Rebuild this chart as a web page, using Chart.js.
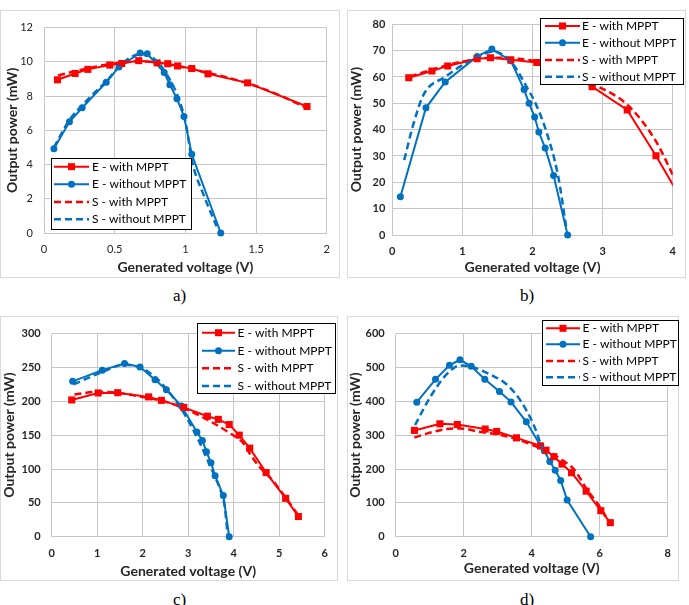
<!DOCTYPE html>
<html>
<head>
<meta charset="utf-8">
<script src="https://cdn.jsdelivr.net/npm/chart.js@4.4.1/dist/chart.umd.min.js"></script>
<style>
  body { margin: 0; background: #fff; width: 689px; height: 605px; position: relative; overflow: hidden; }
  .frame { position: absolute; border: 1px solid #d9d9d9; box-sizing: border-box; }
  canvas { position: absolute; }
  .tag { position: absolute; font-family: "Liberation Serif", serif; font-size: 17px; color: #000; }
</style>
</head>
<body>
<div class="frame" style="left:0;top:10px;width:340px;height:268px"></div>
<div class="frame" style="left:347px;top:10px;width:339px;height:268px"></div>
<div class="frame" style="left:0;top:316px;width:338px;height:265px"></div>
<div class="frame" style="left:347px;top:316px;width:332px;height:265px"></div>
<canvas id="chartA" width="340" height="268" style="left:0;top:10px"></canvas>
<canvas id="chartB" width="339" height="268" style="left:347px;top:10px"></canvas>
<canvas id="chartC" width="338" height="265" style="left:0;top:316px"></canvas>
<canvas id="chartD" width="334" height="265" style="left:347px;top:316px"></canvas>
<div class="tag" style="left:173px;top:286px">a)</div>
<div class="tag" style="left:520px;top:286px">b)</div>
<div class="tag" style="left:173px;top:590px">c)</div>
<div class="tag" style="left:520px;top:590px">d)</div>
<script>
//=[ Data: [voltage (V), power (mW)] ]==========================================

const seriesNames = ["E - with MPPT", "E - without MPPT", "S - with MPPT", "S - without MPPT"];

// a)
const aEWith = [[0.095, 8.95], [0.22, 9.32], [0.31, 9.56], [0.465, 9.81], [0.55, 9.9], [0.67, 10.07], [0.8, 9.94], [0.875, 9.89], [0.945, 9.76], [1.045, 9.61], [1.16, 9.3], [1.44, 8.77], [1.86, 7.39]];
const aEWithout = [[0.07, 4.92], [0.18, 6.5], [0.27, 7.32], [0.44, 8.8], [0.53, 9.7], [0.68, 10.52], [0.73, 10.47], [0.85, 9.37], [0.89, 8.66], [0.94, 7.85], [0.99, 6.81], [1.045, 4.6], [1.25, 0]];
const aSWith = [[0.1, 9.2], [0.2, 9.42], [0.3, 9.6], [0.45, 9.85], [0.6, 10.0], [0.72, 10.02], [0.85, 9.9], [1.0, 9.66], [1.2, 9.28], [1.45, 8.72], [1.65, 8.1], [1.86, 7.3]];
const aSWithout = [[0.07, 5.0], [0.18, 6.6], [0.28, 7.55], [0.45, 8.95], [0.56, 9.95], [0.68, 10.45], [0.76, 10.3], [0.85, 9.5], [0.95, 7.9], [1.0, 6.5], [1.05, 4.1], [1.13, 2.2], [1.22, 0.4]];

// b)
const bEWith = [[0.235, 59.7], [0.565, 62.3], [0.79, 64.2], [1.21, 66.9], [1.4, 67.3], [1.69, 66.5], [2.06, 65.5], [2.45, 62], [2.85, 56.3], [3.35, 47.5], [3.76, 30.1], [4.2, 10]];
const bEWithout = [[0.115, 14.5], [0.48, 48.3], [0.755, 58.1], [1.21, 67.8], [1.42, 70.6], [1.69, 66.2], [1.88, 55.2], [1.95, 50], [2.03, 44.8], [2.09, 39.1], [2.18, 33], [2.3, 22.6], [2.5, 0]];
const bSWith = [[0.25, 60.2], [0.55, 62.6], [0.8, 64.6], [1.2, 66.8], [1.5, 67.3], [1.8, 66.9], [2.1, 65.8], [2.5, 63], [2.85, 57.6], [3.35, 49.5], [3.75, 36], [4.0, 22.8], [4.1, 17]];
const bSWithout = [[0.17, 28.5], [0.3, 42], [0.45, 53.5], [0.75, 60], [1.15, 66.8], [1.45, 69.6], [1.7, 65.5], [1.9, 57], [2.05, 49.5], [2.2, 39], [2.36, 23], [2.48, 3]];

// c)
const cEWith = [[0.44, 202], [1.02, 212.3], [1.45, 212.7], [2.13, 206.5], [2.41, 201.4], [2.9, 191], [3.42, 178], [3.66, 173.3], [3.9, 165.7], [4.12, 150], [4.35, 130.8], [4.71, 94.7], [5.14, 56.7], [5.42, 29.8]];
const cEWithout = [[0.46, 229.5], [1.11, 246], [1.6, 255.7], [1.94, 250.6], [2.27, 232], [2.52, 217], [2.85, 193], [3.19, 154.7], [3.31, 142.2], [3.4, 125.5], [3.5, 109.2], [3.59, 90], [3.77, 60.7], [3.9, 0]];
const cSWith = [[0.5, 210], [1.0, 214], [1.5, 212], [2.1, 205], [2.5, 199.5], [2.9, 190], [3.4, 173.5], [3.9, 153.5], [4.2, 139], [4.35, 123], [4.58, 102], [4.75, 91], [5.15, 57], [5.42, 31]];
const cSWithout = [[0.48, 225], [1.1, 243], [1.6, 254], [1.95, 250], [2.3, 234], [2.6, 212], [2.9, 183], [3.2, 146], [3.4, 117], [3.55, 94], [3.7, 70], [3.8, 45], [3.87, 0]];

// d)
const dEWith = [[0.55, 314], [1.3, 333.5], [1.81, 331.5], [2.63, 318], [2.97, 311], [3.55, 292], [4.26, 268], [4.42, 255.6], [4.65, 236.5], [4.89, 214.5], [5.17, 189], [5.6, 134.5], [6.03, 77], [6.31, 41.5]];
const dEWithout = [[0.62, 397.5], [1.17, 464.8], [1.58, 506.2], [1.89, 522.7], [2.22, 503.3], [2.62, 465.3], [3.05, 428.7], [3.39, 398.3], [3.84, 339.5], [4.26, 269], [4.37, 254], [4.53, 222.5], [4.69, 196], [4.85, 166], [5.04, 108.5], [5.73, 0]];
const dSWith = [[0.55, 293], [1.0, 307], [1.5, 318], [1.9, 320], [2.5, 309], [3.0, 302], [3.5, 290], [4.0, 272], [4.5, 250], [4.9, 226], [5.25, 198], [5.6, 143], [6.0, 88], [6.3, 40]];
const dSWithout = [[0.57, 330], [1.0, 410], [1.5, 480], [1.9, 506], [2.3, 500], [2.8, 478], [3.2, 455], [3.5, 425], [3.85, 372], [4.1, 320], [4.3, 265], [4.45, 240]];

//=[ Styling ]==================================================================

const RED = "#ff0000";
const BLUE = "#0070c0";
const GRID = "#c6c6c6";

const toXY = (pairs) => pairs.map(([x, y]) => ({ x, y }));

function makeDatasets(series, clip) {
  const [eWith, eWithout, sWith, sWithout] = series;
  return [
    { label: seriesNames[2], data: toXY(sWith), borderColor: RED, borderWidth: 2.5, borderDash: [7, 4], pointRadius: 0, cubicInterpolationMode: "monotone", clip },
    { label: seriesNames[3], data: toXY(sWithout), borderColor: BLUE, borderWidth: 2.5, borderDash: [7, 4], pointRadius: 0, cubicInterpolationMode: "monotone", clip },
    { label: seriesNames[0], data: toXY(eWith), borderColor: RED, backgroundColor: RED, borderWidth: 2, pointStyle: "rect", pointRadius: 5, pointBorderWidth: 0, clip },
    { label: seriesNames[1], data: toXY(eWithout), borderColor: BLUE, backgroundColor: BLUE, borderWidth: 2, pointStyle: "circle", pointRadius: 3.5, pointBorderWidth: 0, clip },
  ];
}

// legend drawn inside the plot as a framed box
const boxLegend = {
  id: "boxLegend",
  afterDatasetsDraw(chart, args, o) {
    const ctx = chart.ctx;
    const byLabel = {};
    chart.data.datasets.forEach((ds) => (byLabel[ds.label] = ds));
    ctx.save();
    ctx.fillStyle = "#fff";
    ctx.fillRect(o.x, o.y, o.w, o.h);
    ctx.strokeStyle = "#000";
    ctx.lineWidth = 1;
    ctx.strokeRect(o.x + 0.5, o.y + 0.5, o.w - 1, o.h - 1);
    ctx.font = "12px Lato";
    ctx.textBaseline = "middle";
    seriesNames.forEach((name, i) => {
      const ds = byLabel[name];
      const y = o.rows[i];
      ctx.strokeStyle = ds.borderColor;
      ctx.lineWidth = ds.borderWidth;
      ctx.setLineDash(ds.borderDash || []);
      ctx.beginPath();
      ctx.moveTo(o.x1, y);
      ctx.lineTo(o.x2, y);
      ctx.stroke();
      ctx.setLineDash([]);
      const mx = (o.x1 + o.x2) / 2;
      ctx.fillStyle = ds.borderColor;
      if (ds.pointStyle === "rect") {
        ctx.fillRect(mx - 3.5, y - 3.5, 7, 7);
      } else if (ds.pointStyle === "circle") {
        ctx.beginPath();
        ctx.arc(mx, y, 3.5, 0, Math.PI * 2);
        ctx.fill();
      }
      ctx.fillStyle = "#000";
      ctx.fillText(name, o.tx, y);
    });
    ctx.restore();
  },
};

function panel(id, series, opt) {
  const tickFont = { family: "Lato", size: 11, weight: opt.boldTicks ? "bold" : "normal" };
  const titleFont = { family: "Lato", size: 14, weight: "bold" };
  new Chart(document.getElementById(id), {
    type: "scatter",
    data: { datasets: makeDatasets(series, opt.clip) },
    options: {
      responsive: false,
      animation: false,
      showLine: true,
      layout: { padding: { left: 0, top: opt.top, right: opt.right, bottom: 0 } },
      plugins: {
        legend: { display: false },
        tooltip: { enabled: false },
        boxLegend: opt.legend,
      },
      scales: {
        x: {
          min: 0,
          max: opt.xMax,
          ticks: { stepSize: opt.xStep, font: tickFont, color: "#262626", padding: 10, maxRotation: 0, callback: (v) => String(v) },
          grid: { color: GRID, drawTicks: false },
          border: { display: false },
          title: { display: true, text: "Generated voltage (V)", font: titleFont, color: "#262626", padding: { top: 0, bottom: opt.xTitlePad } },
          afterFit: (s) => { s.height = opt.xH; },
        },
        y: {
          min: 0,
          max: opt.yMax,
          ticks: { stepSize: opt.yStep, font: tickFont, color: "#262626", padding: opt.yTickPad, callback: (v) => String(v) },
          grid: { color: GRID, drawTicks: false },
          border: { display: false },
          title: { display: true, text: "Output power (mW)", font: titleFont, color: "#262626", padding: { top: opt.yTitlePad, bottom: 0 } },
          afterFit: (s) => { s.width = opt.yW; },
        },
      },
    },
    plugins: [boxLegend],
  });
}

//=[ Panels ]===================================================================

panel("chartA", [aEWith, aEWithout, aSWith, aSWithout], {
  xMax: 2, xStep: 0.5, yMax: 12, yStep: 2, boldTicks: false, clip: false,
  top: 13, right: 10, yW: 44, xH: 45, yTickPad: 11, yTitlePad: 4, xTitlePad: 2,
  legend: { x: 51, y: 148, w: 141, h: 72, rows: [156.7, 174.3, 192, 209.3], x1: 54, x2: 89, tx: 92 },
});

panel("chartB", [bEWith, bEWithout, bSWith, bSWithout], {
  xMax: 4, xStep: 1, yMax: 80, yStep: 10, boldTicks: true, clip: { left: 6, top: 6, right: 0, bottom: 6 },
  top: 14.3, right: 9.3, yW: 45.3, xH: 43, yTickPad: 7, yTitlePad: 1.5, xTitlePad: 2,
  legend: { x: 193, y: 8, w: 144, h: 67, rows: [16, 32.7, 50, 66.7], x1: 198, x2: 233, tx: 235 },
});

panel("chartC", [cEWith, cEWithout, cSWith, cSWithout], {
  xMax: 6, xStep: 1, yMax: 300, yStep: 50, boldTicks: true, clip: false,
  top: 12.3, right: 7, yW: 51.7, xH: 44.3, yTickPad: 11, yTitlePad: 1.5, xTitlePad: 1.5,
  legend: { x: 197, y: 7, w: 139, h: 71, rows: [16.7, 34.7, 52.3, 70], x1: 202, x2: 235, tx: 237.5 },
});

panel("chartD", [dEWith, dEWithout, dSWith, dSWithout], {
  xMax: 8, xStep: 2, yMax: 600, yStep: 100, boldTicks: true, clip: false,
  top: 13.3, right: 6, yW: 48.7, xH: 44.3, yTickPad: 11, yTitlePad: 0, xTitlePad: 4,
  legend: { x: 195, y: 4, w: 137, h: 66, rows: [12.3, 28.3, 45, 61.3], x1: 199, x2: 233, tx: 235.5 },
});
</script>
</body>
</html>
